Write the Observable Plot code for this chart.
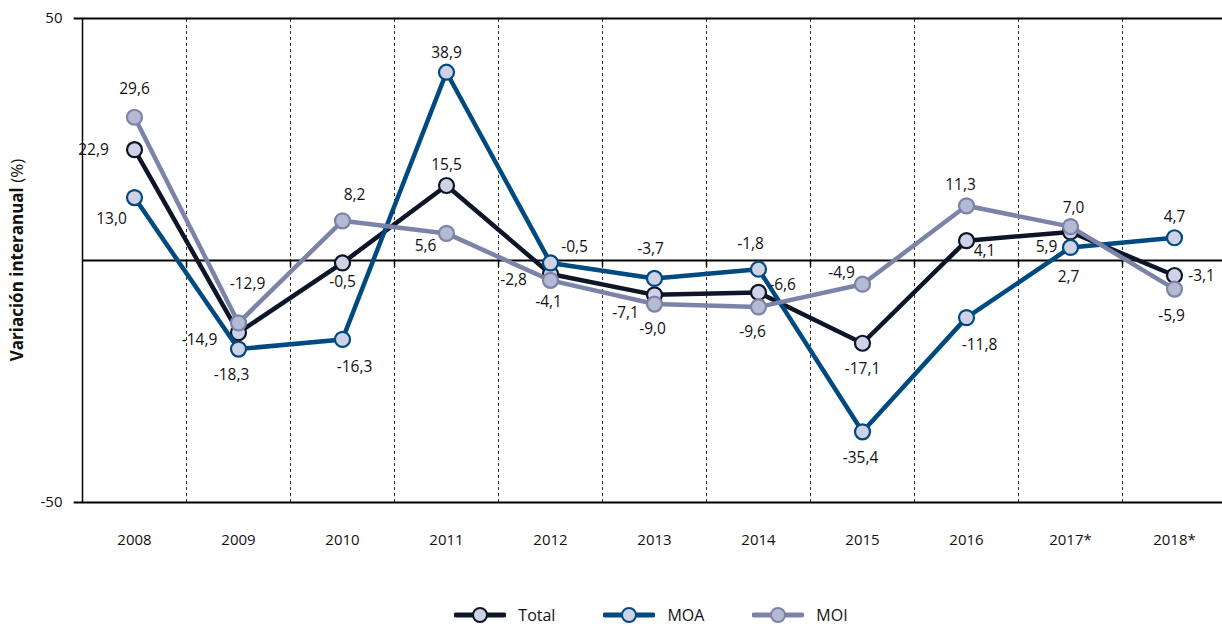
<!DOCTYPE html>
<html>
<head>
<meta charset="utf-8">
<script src="https://cdn.jsdelivr.net/npm/d3@7"></script>
<script src="https://cdn.jsdelivr.net/npm/@observablehq/plot@0.6"></script>
<style>
  html, body { margin: 0; padding: 0; background: #fff; }
  body { width: 1222px; height: 626px; overflow: hidden; font-family: "Open Sans", sans-serif; }
  #legend { display: flex; justify-content: center; align-items: center; height: 24px; margin-top: 33px; padding-left: 80px; font-size: 16px; color: #111; }
  .item { display: flex; align-items: center; margin: 0 24px; }
  .item svg { margin-right: 12px; }
</style>
</head>
<body>
<div id="chart"></div>
<div id="legend"></div>
<script>
const years = ["2008","2009","2010","2011","2012","2013","2014","2015","2016","2017*","2018*"];
const total = [22.9, -14.9, -0.5, 15.5, -2.8, -7.1, -6.6, -17.1, 4.1, 5.9, -3.1];
const moa   = [13.0, -18.3, -16.3, 38.9, -0.5, -3.7, -1.8, -35.4, -11.8, 2.7, 4.7];
const moi   = [29.6, -12.9, 8.2, 5.6, -4.1, -9.0, -9.6, -4.9, 11.3, 7.0, -5.9];
const seriesNames = ["Total", "MOA", "MOI"];
const yTicks = [-50, 50];

// label placement (pixel offsets from each point) — layout only
const labelOffsets = {
  Total: [[-41,0],[-39,7],[0,19],[0,-20],[-37,6],[-29,18],[24,-7],[0,26],[18,10],[-24,15],[27,1]],
  MOA:   [[-23,21],[-7,26],[12,28],[0,-19],[24,-16],[-4,-29],[-8,-25],[-2,26],[13,27],[-2,30],[0,-21]],
  MOI:   [[0,-28],[9,-39],[12,-26],[-21,13],[-2,22],[-2,25],[-6,25],[-21,-11],[-6,-21],[3,-19],[-3,27]]
};
const styles = {
  Total: {line: "#0d1528", dotFill: "#cfd2e6", dotStroke: "#0d1528"},
  MOA:   {line: "#004a80", dotFill: "#cfd2e6", dotStroke: "#004a80"},
  MOI:   {line: "#7b84a8", dotFill: "#b4b9d4", dotStroke: "#7b84a8"}
};

const valuesBySeries = {Total: total, MOA: moa, MOI: moi};
const rows = seriesNames.flatMap(s => valuesBySeries[s].map((v, i) => ({series: s, i, year: years[i], value: v})));
const fmt = v => d3.format(".1f")(v).replace(".", ",").replace("−", "-");
const boundaries = years.slice(1).map((_, k) => k + 0.5);

const marks = [
  Plot.ruleX(boundaries, {y1: -50, y2: 50, stroke: "#333", strokeWidth: 1, strokeDasharray: "3,3"}),
  Plot.ruleX(boundaries, {y1: 0, y2: -1.4, stroke: "#000", strokeWidth: 1.5}),
  Plot.ruleY(yTicks, {x1: -0.58, x2: 10.6, stroke: "#000", strokeWidth: 1.8}),
  Plot.ruleY([0], {stroke: "#000", strokeWidth: 2}),
  Plot.ruleX([-0.5], {y1: -50, y2: 50, stroke: "#000", strokeWidth: 1.5}),
  Plot.text(yTicks, {y: d => d, frameAnchor: "left", textAnchor: "end", dx: -20, text: d => String(d), fontSize: 15, fill: "#111"}),
  Plot.text(years, {x: (d, i) => i, frameAnchor: "bottom", dy: 42, text: d => d, fontSize: 15, fill: "#111"})
];
for (const s of seriesNames) {
  const data = rows.filter(d => d.series === s);
  marks.push(Plot.line(data, {x: "i", y: "value", stroke: styles[s].line, strokeWidth: 4.5, strokeLinejoin: "round"}));
  marks.push(Plot.dot(data, {x: "i", y: "value", r: 7.5, fill: styles[s].dotFill, stroke: styles[s].dotStroke, strokeWidth: 2.2}));
}
for (const s of seriesNames) {
  rows.filter(d => d.series === s).forEach((d, k) => {
    const [dx, dy] = labelOffsets[s][k];
    marks.push(Plot.text([d], {x: "i", y: "value", text: d => fmt(d.value), dx, dy, fontSize: 15.5, fill: "#111"}));
  });
}

const chart = Plot.plot({
  width: 1222,
  height: 570,
  marginLeft: 82,
  marginRight: 0,
  marginTop: 18,
  marginBottom: 68,
  style: {fontFamily: "'Open Sans', sans-serif", fontSize: "15px", background: "#fff", color: "#111", overflow: "visible"},
  x: {domain: [-0.5, 10.5], range: [82, 1226], axis: null},
  y: {domain: [-50, 50], axis: null},
  marks
});

const svg = d3.select(chart);
const t = svg.append("text")
  .attr("transform", "translate(23,260) rotate(-90)")
  .attr("text-anchor", "middle")
  .attr("font-size", 17)
  .attr("fill", "#111");
t.append("tspan").attr("font-weight", "bold").text("Variación interanual ");
t.append("tspan").text("(%)");

document.getElementById("chart").appendChild(chart);

const legend = d3.select("#legend");
for (const s of seriesNames) {
  const item = legend.append("div").attr("class", "item");
  const sv = item.append("svg").attr("width", 52).attr("height", 18);
  sv.append("line").attr("x1", 2).attr("x2", 50).attr("y1", 9).attr("y2", 9)
    .attr("stroke", styles[s].line).attr("stroke-width", 5).attr("stroke-linecap", "round");
  sv.append("circle").attr("cx", 26).attr("cy", 9).attr("r", 7)
    .attr("fill", styles[s].dotFill).attr("stroke", styles[s].dotStroke).attr("stroke-width", 2);
  item.append("span").text(s);
}
</script>
</body>
</html>
